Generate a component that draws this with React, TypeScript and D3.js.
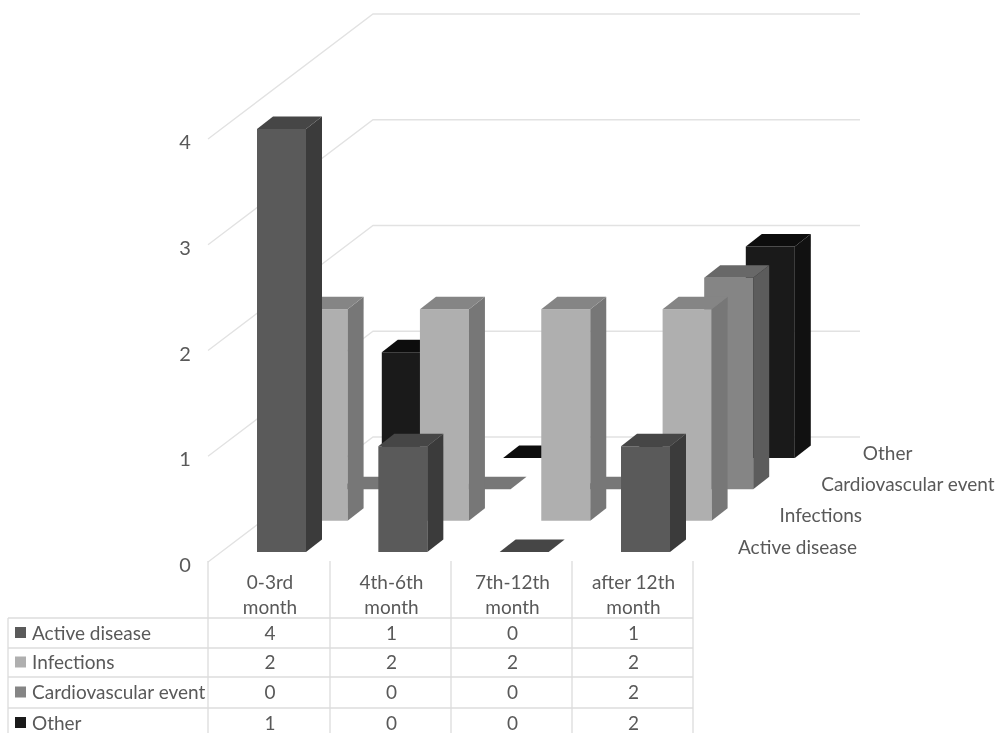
import React from "react";
import * as d3 from "d3";

const categories = ["0-3rd month", "4th-6th month", "7th-12th month", "after 12th month"];
const categoryLines = [["0-3rd", "month"], ["4th-6th", "month"], ["7th-12th", "month"], ["after 12th", "month"]];
const seriesNames = ["Active disease", "Infections", "Cardiovascular event", "Other"];
const activeDisease = [4, 1, 0, 1];
const infections = [2, 2, 2, 2];
const cardiovascular = [0, 0, 0, 2];
const other = [1, 0, 0, 2];
const seriesValues = [activeDisease, infections, cardiovascular, other];
const valueTicks = [0, 1, 2, 3, 4];
const frontColors = ["#5a5a5a", "#afafaf", "#858585", "#1a1a1a"];
const sideColors = ["#3b3b3b", "#777777", "#5c5c5c", "#111111"];
const topColors = ["#464646", "#858585", "#686868", "#0d0d0d"];

const W = 995, H = 733;
const FONT = "Lato, 'Open Sans', sans-serif";
const TEXT = "#595959";
const GRID = "#e2e2e2";
const TABLE = "#dcdcdc";
const LABEL_SIZE = 19;

const xCat = d3.scaleLinear().domain([0, 3]).range([257, 621]);
const xDepth = d3.scaleLinear().domain([0, 3]).range([0, 124.8]);
const yDepth = d3.scaleLinear().domain([0, 3]).range([0, -94]);
const height = d3.scaleLinear().domain([0, 4]).range([0, 423]);
const barBase = 552, barW = 49, sideX = 16, sideY = -12.5;
const wallFrontX = 208, wallBackX = 373, wallRight = 860;
const wallFrontY = d3.scaleLinear().domain([0, 4]).range([562, 139]);
const wallBackY = d3.scaleLinear().domain([0, 4]).range([437, 14]);

const tableX = [208, 330, 451, 572, 693];
const tableLeft = 8;
const rowY = [618, 648, 677, 708, 738];

const poly = d3.line<[number, number]>();

function Bar({ c, s, v }: { c: number; s: number; v: number }) {
  const x0 = xCat(c) + xDepth(s);
  const y0 = barBase + yDepth(s);
  const x1 = x0 + barW;
  const yT = y0 - height(v);
  const front: [number, number][] = [[x0, y0], [x1, y0], [x1, yT], [x0, yT]];
  const side: [number, number][] = [[x1, y0], [x1 + sideX, y0 + sideY], [x1 + sideX, yT + sideY], [x1, yT]];
  const top: [number, number][] = [[x0, yT], [x1, yT], [x1 + sideX, yT + sideY], [x0 + sideX, yT + sideY]];
  return (
    <g>
      {v > 0 && <path d={poly(front) + "Z"} fill={frontColors[s]} />}
      {v > 0 && <path d={poly(side) + "Z"} fill={sideColors[s]} />}
      <path d={poly(top) + "Z"} fill={v > 0 ? topColors[s] : s === 2 ? "#777777" : topColors[s]} />
    </g>
  );
}

export default function App() {
  return (
    <svg width={W} height={H} viewBox={`0 0 ${W} ${H}`} style={{ position: "absolute", left: 0, top: 0, background: "#fff", filter: "blur(0.45px)" }} fontFamily={FONT}>
      {valueTicks.map((t) => (
        <g key={t}>
          <path
            d={poly([[wallFrontX, wallFrontY(t)], [wallBackX, wallBackY(t)], [wallRight, wallBackY(t)]]) as string}
            fill="none"
            stroke={GRID}
            strokeWidth={1.3}
          />
          <text x={185} y={wallFrontY(t) + 2} textAnchor="middle" dominantBaseline="central" fontSize={20} fill={TEXT}>{t}</text>
        </g>
      ))}

      {[3, 2, 1, 0].map((s) => (
        <g key={s}>
          {categories.map((_, c) => (
            <Bar key={c} c={c} s={s} v={seriesValues[s][c]} />
          ))}
        </g>
      ))}

      {seriesNames.map((n, s) => (
        <text key={n} x={738 + xDepth(s)} y={546 + yDepth(s)} dominantBaseline="central" fontSize={LABEL_SIZE} fill={TEXT}>{n}</text>
      ))}

      {tableX.map((x) => (
        <line key={x} x1={x} x2={x} y1={561} y2={H} stroke={TABLE} strokeWidth={1.3} />
      ))}
      <line x1={tableLeft} x2={tableLeft} y1={rowY[0]} y2={H} stroke={TABLE} strokeWidth={1.3} />
      {rowY.map((y) => (
        <line key={y} x1={tableLeft} x2={tableX[4]} y1={y} y2={y} stroke={TABLE} strokeWidth={1.3} />
      ))}
      {categoryLines.map((lines, c) => (
        <g key={c}>
          {lines.map((l, i) => (
            <text key={i} x={(tableX[c] + tableX[c + 1]) / 2 + 1} y={581 + i * 25} textAnchor="middle" dominantBaseline="central" fontSize={LABEL_SIZE} fill={TEXT}>{l}</text>
          ))}
        </g>
      ))}
      {seriesNames.map((n, s) => {
        const cy = (rowY[s] + rowY[s + 1]) / 2 - 1;
        return (
          <g key={n}>
            <rect x={15} y={cy - 5} width={11} height={11} fill={frontColors[s]} />
            <text x={32} y={cy} dominantBaseline="central" fontSize={LABEL_SIZE} fill={TEXT}>{n}</text>
            {seriesValues[s].map((v, c) => (
              <text key={c} x={(tableX[c] + tableX[c + 1]) / 2 + 1} y={cy} textAnchor="middle" dominantBaseline="central" fontSize={LABEL_SIZE} fill={TEXT}>{v}</text>
            ))}
          </g>
        );
      })}
    </svg>
  );
}
